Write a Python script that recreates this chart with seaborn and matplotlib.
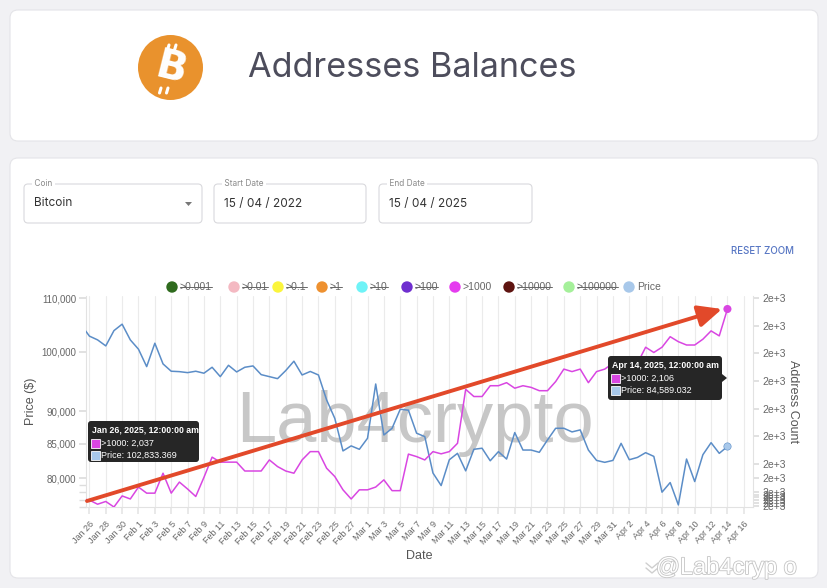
import numpy as np
import pandas as pd
import seaborn as sns
import matplotlib.pyplot as plt
import matplotlib.dates as mdates
import matplotlib.transforms as mtransforms
import matplotlib.patheffects as pe
from matplotlib.patches import FancyBboxPatch, Circle, Rectangle, FancyArrowPatch, Polygon
from matplotlib.lines import Line2D
from matplotlib.ticker import FixedLocator, FuncFormatter, NullFormatter

sns.set_theme(style="white")
plt.rcParams['font.family'] = ['Liberation Sans', 'DejaVu Sans']

# ---------- Data (daily, Jan 25 - Apr 14 2025) --------------------------- #
start_day, end_day = "2025-01-25", "2025-04-14"
price = [104900, 102833.369, 102150, 101070, 103840, 105030, 102150,          # Jan 25-31
         100480, 97430, 101550, 97900, 96640, 96570, 96400, 96640, 96300,     # Feb 1-9
         97320, 95720, 97660, 96520, 97320, 97550, 96060, 95720, 95380,       # Feb 10-18
         96750, 98370, 96000, 96600, 96000, 91850, 88900, 83930, 84680,       # Feb 19-27
         84170,                                                               # Feb 28
         85830, 94480, 86330, 87360, 90350, 90200, 86600, 86080, 80710,       # Mar 1-9
         78940, 82630, 83570, 81020, 84170, 84330, 82480, 83820, 82730,       # Mar 10-18
         86700, 84060, 84060, 83720, 85570, 87360, 87360, 86800, 87110,       # Mar 19-27
         84060, 82530, 82250, 82530,                                          # Mar 28-31
         85060, 82630, 82970, 83670, 83120, 78020, 79360, 76280, 82730,       # Apr 1-9
         79500, 83370, 85160, 83570, 84589.032]                               # Apr 10-14
count_1000 = [2037.5, 2037, 2035.5, 2036.5, 2034.5, 2038.5, 2037.4,
              2041.7, 2039.5, 2039.5, 2046.7, 2039.5, 2043.5, 2041, 2038.3, 2045.2,
              2052.5, 2050.7, 2050.7, 2050.7, 2047.5, 2047.5, 2047.5, 2051.5, 2049.1,
              2047.5, 2046.7, 2051.5, 2054.5, 2054.5, 2048.5, 2045.5, 2040.7, 2037.4,
              2040.7,
              2040.7, 2041.7, 2044.3, 2040.4, 2040.4, 2053.6, 2052.7, 2051.5, 2054.5,
              2053.7, 2054.5, 2057.5, 2077.0, 2074.4, 2074.4, 2078.3, 2078.3, 2079.4,
              2077.4, 2078.3, 2077.7, 2076.5, 2076.5, 2079.8, 2084.3, 2083.4, 2084.3,
              2079.4, 2083.4, 2084.3, 2086.4,
              2084.6, 2086.4, 2086.4, 2092.2, 2090.3, 2092.2, 2096, 2094.2, 2093,
              2093, 2095.1, 2098.1, 2096.3, 2106]

legend_labels = [">0.001", ">0.01", ">0.1", ">1", ">10", ">100", ">1000", ">10000", ">100000", "Price"]
legend_colors = ["#2f6b1e", "#f4b9c2", "#fbf53c", "#ee9130", "#6ff3f7", "#6f2fcf",
                 "#e53cef", "#5e1410", "#a5f09a", "#a8c8ea"]
legend_hidden = [True, True, True, True, True, True, False, True, True, False]

price_ticks = [80000, 85000, 90000, 100000, 110000]
count_ticks = [2110, 2100, 2090, 2080, 2070, 2060, 2050, 2045, 2040, 2039, 2038, 2037, 2036, 2035]

df = pd.DataFrame({"Date": pd.date_range(start_day, end_day, freq="D"),
                   "Price": price, ">1000": count_1000})

PRICE_C, CNT_C = "#5b8dc7", "#d946e2"

# ---------- Figure & page background ------------------------------------ #
W, H = 828, 588
fig = plt.figure(figsize=(W / 100, H / 100), dpi=100)
fig.patch.set_facecolor("#f1f1f4")
px = mtransforms.Affine2D().scale(1 / W, -1 / H).translate(0, 1) + fig.transFigure

def card(x0, y0, x1, y1, r=8, fc="white", ec="#e4e4e8", lw=0.8, z=-1):
    fig.patches.append(FancyBboxPatch((x0, y0), x1 - x0, y1 - y0,
                                      boxstyle=f"round,pad=0,rounding_size={r}",
                                      fc=fc, ec=ec, lw=lw, transform=px, zorder=z))

card(10, 10, 818, 141)
card(10, 158, 818, 578)

# bitcoin logo + title
fig.patches.append(Circle((170.5, 67.5), 32.5, fc="#e9922d", ec="none", transform=px))
fig.text(171, 69, "B", transform=px, color="white", fontsize=29, fontweight="bold",
         family="DejaVu Sans", ha="center", va="center", rotation=-14)
for xx in (166, 173):
    fig.add_artist(Line2D([xx + 1.5, xx + 3], [50, 45], color="white", lw=2.2, transform=px))
    fig.add_artist(Line2D([xx - 5, xx - 6.5], [88, 93], color="white", lw=2.2, transform=px))
fig.text(248, 68, "Addresses Balances", transform=px, color="#4d4d5c", fontsize=24.6,
         family="Inter", va="center", ha="left")

# input boxes
for (x0, x1, lab, val) in [(24, 202, "Coin", "Bitcoin"),
                           (214, 366, "Start Date", "15 / 04 / 2022"),
                           (379, 532, "End Date", "15 / 04 / 2025")]:
    card(x0, 184, x1, 223, r=4, ec="#d9d9dd", lw=0.8, z=1)
    t = fig.text(x0 + 8, 184, f" {lab} ", transform=px, fontsize=6, color="#8a8a8a",
                 family="Inter", va="center", ha="left", zorder=3)
    t.set_bbox(dict(fc="white", ec="none", pad=0))
    fig.text(x0 + 10, 203.5, val, transform=px, fontsize=8.5, color="#333333",
             family="Inter", va="center", ha="left", zorder=3)
fig.patches.append(Polygon([(185, 202), (192, 202), (188.5, 206)], closed=True,
                           fc="#777777", ec="none", transform=px, zorder=3))
fig.text(794, 251, "RESET ZOOM", transform=px, fontsize=7, color="#5877c4",
         family="Inter", fontweight="medium", ha="right", va="center")

# ---------- Chart -------------------------------------------------------- #
L, R, T, B = 86, 753, 296, 507
ax = fig.add_axes([L / W, 1 - B / H, (R - L) / W, (B - T) / H])
ax.set_facecolor("none")
ax2 = ax.twinx()

sns.lineplot(data=df, x="Date", y="Price", color=PRICE_C, lw=1.1, ax=ax, zorder=3)
sns.lineplot(data=df, x="Date", y=">1000", color=CNT_C, lw=1.1, ax=ax2, zorder=3)
last = df.tail(1)
sns.scatterplot(data=last, x="Date", y="Price", color="#a8c8ea", s=28, edgecolor=PRICE_C,
                linewidth=0.4, ax=ax, zorder=4)
sns.scatterplot(data=last, x="Date", y=">1000", color=CNT_C, s=34, edgecolor="none",
                ax=ax2, zorder=4)

ax.set_xlim(pd.Timestamp("2025-01-25 14:00"), pd.Timestamp("2025-04-17 03:00"))
ax.set_yscale("log")
ax.set_ylim(76000, 110400)
ax.yaxis.set_major_locator(FixedLocator(price_ticks))
ax.yaxis.set_major_formatter(FuncFormatter(lambda v, p: f"{v:,.0f}"))
ax.yaxis.set_minor_locator(FixedLocator([76000, 77000, 78000, 79000]))
ax.yaxis.set_minor_formatter(NullFormatter())

ax2.set_ylim(2034.5, 2110.7)
ax2.yaxis.set_major_locator(FixedLocator(count_ticks))
ax2.yaxis.set_major_formatter(FuncFormatter(lambda v, p: f"{v:.0e}".replace("e+0", "e+")))

xt = pd.date_range("2025-01-26", "2025-04-16", freq="2D")
ax.set_xticks(xt)
ax.xaxis.set_major_formatter(mdates.DateFormatter("%b %-d"))
plt.setp(ax.get_xticklabels(), rotation=47, ha="right", rotation_mode="anchor")

ax.grid(axis="x", color="#ebebeb", lw=0.8)
ax.grid(axis="y", visible=False)
ax2.grid(False)
for s in ["top", "right"]:
    ax.spines[s].set_visible(False)
for s in ["top", "left", "bottom"]:
    ax2.spines[s].set_visible(False)
for sp in [ax.spines["left"], ax.spines["bottom"], ax2.spines["right"]]:
    sp.set_color("#e2e2e2"); sp.set_linewidth(0.8)

ax.tick_params(axis="x", bottom=True, length=5, color="#e6e6e6", labelsize=6.5,
               labelcolor="#666666", pad=4)
ax.tick_params(axis="y", which="both", left=True, length=5, color="#dddddd", labelsize=7,
               labelcolor="#666666", pad=2)
ax2.tick_params(axis="y", right=True, length=4, color="#dddddd", labelsize=7.5,
                labelcolor="#666666", pad=3)

ax.set_xlabel("Date", fontsize=9, color="#555555", labelpad=3)
ax.set_ylabel("Price ($)", fontsize=9, color="#555555", labelpad=3)
ax2.set_ylabel("Address Count", fontsize=9, color="#555555", rotation=270, labelpad=9)

# watermark
ax.text(0.493, 0.31, "Lab4crypto", transform=ax.transAxes, fontsize=52, color="#bdbdbd",
        alpha=0.85, ha="center", va="baseline", zorder=1)

# ---------- Legend with struck-through hidden series --------------------- #
leg_x = [172, 234, 278, 322, 362, 407, 455, 509, 569, 629]
leg_texts = []
for xx, lab, col, hid in zip(leg_x, legend_labels, legend_colors, legend_hidden):
    fig.patches.append(Circle((xx, 287), 5.7, fc=col, ec="none", transform=px,
                              hatch="....." if lab == ">0.01" else None))
    t = fig.text(xx + 8, 287, lab, transform=px, fontsize=7.5, color="#666666",
                 ha="left", va="center")
    leg_texts.append((t, hid))

# ---------- Arrow, tooltips --------------------------------------------- #
fig.patches.append(FancyArrowPatch((87, 501), (722, 309), transform=px,
                                   arrowstyle="-|>,head_length=1.2,head_width=0.55",
                                   mutation_scale=12, color="#e2492a", lw=2.8,
                                   shrinkA=0, shrinkB=0, zorder=5))

def tooltip(x0, y0, x1, y1, title, v1, v2, pointer=False):
    card(x0, y0, x1, y1, r=3, fc="#262626", ec="none", z=6)
    if pointer:
        fig.patches.append(Polygon([(x1, y0 + 18), (x1 + 5, y0 + 22), (x1, y0 + 26)],
                                   closed=True, fc="#262626", ec="none", transform=px, zorder=6))
    fig.text(x0 + 4, y0 + 9, title, transform=px, fontsize=6.3, fontweight="bold",
             color="white", va="center", ha="left", zorder=7)
    for i, (lab, col) in enumerate([(v1, CNT_C), (v2, "#a8c8ea")]):
        yy = y0 + 22 + 12 * i
        fig.patches.append(Rectangle((x0 + 3, yy - 4.5), 9, 9, fc=col, ec="white", lw=0.6,
                                     transform=px, zorder=7))
        fig.text(x0 + 13, yy, lab, transform=px, fontsize=6.5, color="white",
                 va="center", ha="left", zorder=7)

tooltip(88, 421, 199, 462, "Jan 26, 2025, 12:00:00 am",
        f">1000: {count_1000[1]:,.0f}", f"Price: {price[1]:,.3f}")
tooltip(608, 356, 722, 400, "Apr 14, 2025, 12:00:00 am",
        f">1000: {count_1000[-1]:,.0f}", f"Price: {price[-1]:,.3f}", pointer=True)

# bottom-right site watermark
fig.text(797, 568, "@Lab4cryp o", transform=px, fontsize=17, color="white", ha="right",
         va="center", family="Liberation Sans",
         path_effects=[pe.withStroke(linewidth=1.2, foreground="#c4c4c4")])
for dy in (0, 5):
    fig.add_artist(Line2D([646, 652, 658], [563 + dy, 568 + dy, 563 + dy], color="#cfcfcf",
                          lw=1.0, transform=px))

# strike through hidden legend labels
fig.canvas.draw()
inv = fig.transFigure.inverted()
for t, hid in leg_texts:
    if hid:
        bb = t.get_window_extent()
        (a, b), (c, d) = inv.transform([(bb.x0, (bb.y0 + bb.y1) / 2), (bb.x1, (bb.y0 + bb.y1) / 2)])
        fig.add_artist(Line2D([a, c], [b, d], color="#666666", lw=0.7, transform=fig.transFigure))

fig.savefig("out.png", dpi=100)
